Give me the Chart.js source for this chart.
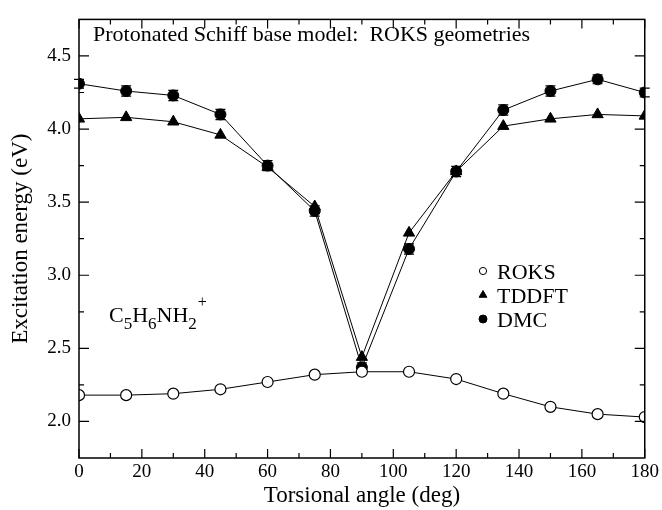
<!DOCTYPE html>
<html>
<head>
<meta charset="utf-8">
<script src="https://cdn.jsdelivr.net/npm/chart.js@4.4.1/dist/chart.umd.min.js"></script>
<style>
  html, body { margin: 0; padding: 0; background: #fff; }
</style>
</head>
<body>
<canvas id="grafico" width="662" height="510"></canvas>
<script>
// data
const angles = [0, 15, 30, 45, 60, 75, 90, 105, 120, 135, 150, 165, 180];
const roks   = [2.18, 2.18, 2.19, 2.22, 2.27, 2.32, 2.34, 2.34, 2.29, 2.19, 2.10, 2.05, 2.03];
const tddft  = [4.07, 4.08, 4.05, 3.96, 3.74, 3.47, 2.44, 3.29, 3.71, 4.02, 4.07, 4.10, 4.09];
const dmc    = [4.31, 4.26, 4.23, 4.10, 3.75, 3.44, 2.37, 3.18, 3.71, 4.13, 4.26, 4.34, 4.25];
const dmcErr = [0.03, 0.035, 0.035, 0.035, 0.035, 0.035, 0.03, 0.035, 0.035, 0.035, 0.035, 0.03, 0.03];

const xTicks = [0, 20, 40, 60, 80, 100, 120, 140, 160, 180];
const yTicks = [2.0, 2.5, 3.0, 3.5, 4.0, 4.5];
const seriesNames = ['ROKS', 'TDDFT', 'DMC'];

const xLabel = 'Torsional angle (deg)';
const yLabel = 'Excitation energy (eV)';
const plotTitle = 'Protonated Schiff base model:  ROKS geometries';
const molecule = [['C', 'n'], ['5', 'sub'], ['H', 'n'], ['6', 'sub'], ['NH', 'n'], ['2', 'sub'], ['+', 'sup']];

const SERIF = "'Liberation Serif', 'Times New Roman', serif";

const toPts = (vals) => angles.map((a, i) => ({ x: a, y: vals[i] }));

// inward ticks + frame
const marcoPlugin = {
  id: 'marco',
  afterDraw(chart) {
    const { ctx, chartArea: ca, scales: { x, y } } = chart;
    ctx.save();
    ctx.strokeStyle = '#000';
    ctx.lineWidth = 1.5;
    ctx.strokeRect(ca.left, ca.top, ca.right - ca.left, ca.bottom - ca.top);
    ctx.lineWidth = 1.2;
    ctx.beginPath();
    for (let v = 0; v <= 180; v += 10) {
      const len = v % 20 === 0 ? 9 : 5;
      const px = x.getPixelForValue(v);
      ctx.moveTo(px, ca.bottom); ctx.lineTo(px, ca.bottom - len);
      ctx.moveTo(px, ca.top); ctx.lineTo(px, ca.top + len);
    }
    for (let v = 2.0; v <= 4.5001; v += 0.25) {
      const len = Math.abs(v * 2 - Math.round(v * 2)) < 0.01 ? 10 : 5;
      const py = y.getPixelForValue(v);
      ctx.moveTo(ca.left, py); ctx.lineTo(ca.left + len, py);
      ctx.moveTo(ca.right, py); ctx.lineTo(ca.right - len, py);
    }
    ctx.stroke();
    ctx.restore();
  }
};

// DMC error bars
const erroresPlugin = {
  id: 'errores',
  beforeDatasetsDraw(chart) {
    const { ctx, scales: { x, y } } = chart;
    ctx.save();
    ctx.strokeStyle = '#000';
    ctx.lineWidth = 1.2;
    ctx.beginPath();
    angles.forEach((a, i) => {
      const px = x.getPixelForValue(a);
      const hi = y.getPixelForValue(dmc[i] + dmcErr[i]);
      const lo = y.getPixelForValue(dmc[i] - dmcErr[i]);
      ctx.moveTo(px, hi); ctx.lineTo(px, lo);
      ctx.moveTo(px - 5, hi); ctx.lineTo(px + 5, hi);
      ctx.moveTo(px - 5, lo); ctx.lineTo(px + 5, lo);
    });
    ctx.stroke();
    ctx.restore();
  }
};

// title, molecule label and legend inside the plot
const textosPlugin = {
  id: 'textos',
  afterDraw(chart) {
    const { ctx } = chart;
    ctx.save();
    ctx.fillStyle = '#000';
    ctx.textBaseline = 'alphabetic';
    ctx.textAlign = 'left';
    ctx.font = '22px ' + SERIF;
    ctx.fillText(plotTitle, 93, 41);

    let cx = 109;
    molecule.forEach(([t, kind]) => {
      if (kind === 'n') {
        ctx.font = '22px ' + SERIF;
        ctx.fillText(t, cx, 322);
      } else if (kind === 'sub') {
        ctx.font = '17px ' + SERIF;
        ctx.fillText(t, cx, 329);
      } else {
        ctx.font = '16px ' + SERIF;
        ctx.fillText(t, cx + 1, 307);
      }
      cx += ctx.measureText(t).width;
    });

    chart.data.datasets.forEach((ds, i) => {
      const ly = 271 + i * 24;
      ctx.fillStyle = ds.pointBackgroundColor;
      ctx.strokeStyle = '#000';
      ctx.lineWidth = 1;
      Chart.helpers.drawPoint(ctx, {
        pointStyle: ds.pointStyle,
        radius: ds.pointStyle === 'triangle' ? 4.5 : (i === 0 ? 3.6 : 4),
        borderWidth: 1
      }, 483, ly);
      ctx.fillStyle = '#000';
      ctx.font = '22px ' + SERIF;
      ctx.fillText(ds.label, 497, ly + 7.5);
    });
    ctx.restore();
  }
};

const ctx = document.getElementById('grafico').getContext('2d');
Chart.defaults.font.family = SERIF;
Chart.defaults.color = '#000';

new Chart(ctx, {
  type: 'line',
  data: {
    datasets: [
      {
        label: seriesNames[0],
        data: toPts(roks),
        borderColor: '#000',
        borderWidth: 1,
        pointStyle: 'circle',
        pointRadius: 5.5,
        pointBorderWidth: 1.2,
        pointBackgroundColor: '#fff',
        pointBorderColor: '#000'
      },
      {
        label: seriesNames[1],
        data: toPts(tddft),
        borderColor: '#000',
        borderWidth: 1,
        pointStyle: 'triangle',
        pointRadius: 6.5,
        pointBorderWidth: 1,
        pointBackgroundColor: '#000',
        pointBorderColor: '#000'
      },
      {
        label: seriesNames[2],
        data: toPts(dmc),
        borderColor: '#000',
        borderWidth: 1,
        pointStyle: 'circle',
        pointRadius: 5.5,
        pointBorderWidth: 1,
        pointBackgroundColor: '#000',
        pointBorderColor: '#000'
      }
    ]
  },
  options: {
    responsive: false,
    animation: false,
    layout: { padding: { top: 10, right: 16, left: 0, bottom: 0 } },
    plugins: {
      legend: { display: false },
      tooltip: { enabled: false }
    },
    scales: {
      x: {
        type: 'linear',
        min: 0,
        max: 180,
        afterFit: (s) => { s.height = 52; },
        afterBuildTicks: (s) => { s.ticks = xTicks.map((v) => ({ value: v })); },
        grid: { display: false, drawTicks: false },
        border: { display: false },
        ticks: { font: { family: SERIF, size: 19 }, padding: 3, maxRotation: 0, autoSkip: false },
        title: { display: true, text: xLabel, font: { family: SERIF, size: 23 }, padding: { top: 0, bottom: 0 } }
      },
      y: {
        type: 'linear',
        min: 1.75,
        max: 4.75,
        afterFit: (s) => { s.width = 79; },
        afterBuildTicks: (s) => { s.ticks = yTicks.map((v) => ({ value: v })); },
        grid: { display: false, drawTicks: false },
        border: { display: false },
        ticks: { font: { family: SERIF, size: 19 }, padding: 8, callback: (v) => v.toFixed(1) },
        title: { display: true, text: yLabel, font: { family: SERIF, size: 23 }, padding: { top: 7, bottom: 0 } }
      }
    }
  },
  plugins: [erroresPlugin, marcoPlugin, textosPlugin]
});
</script>
</body>
</html>
